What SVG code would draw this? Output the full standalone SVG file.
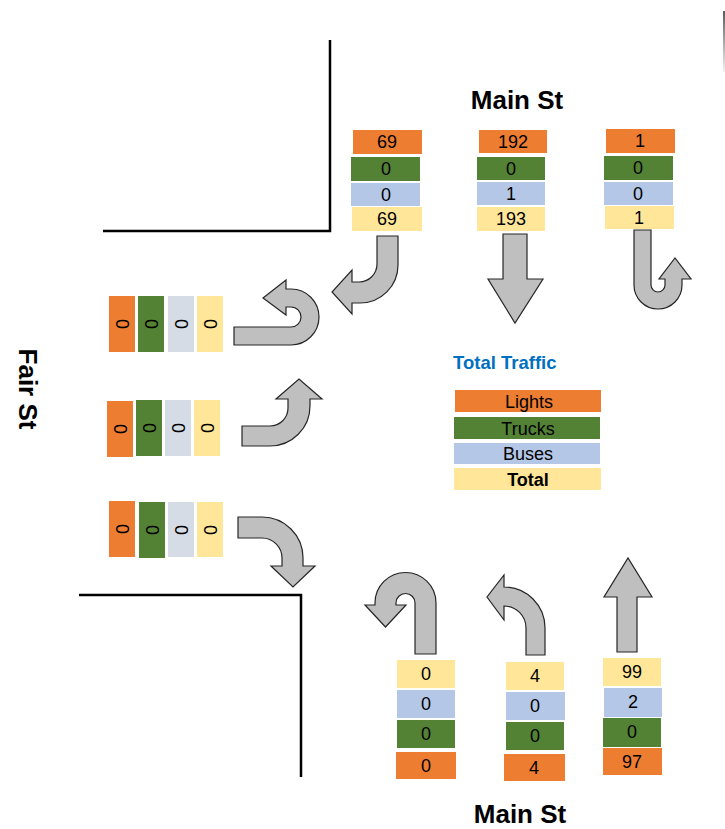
<svg xmlns="http://www.w3.org/2000/svg" width="725" height="829" viewBox="0 0 725 829">
<defs>
<linearGradient id="fade" gradientUnits="userSpaceOnUse" x1="0" y1="11" x2="0" y2="72">
<stop offset="0" stop-color="#333"/>
<stop offset="1" stop-color="#eee"/>
</linearGradient>
<style>
.o{fill:#ED7D31}.g{fill:#548235}.b{fill:#B4C7E7}.y{fill:#FFE699}.s{fill:#D6DCE5}
.n{font-family:"Liberation Sans",Arial,sans-serif;font-size:18px;fill:#000;text-anchor:middle}
.lbl{font-family:"Liberation Sans",Arial,sans-serif;font-size:26px;font-weight:bold;fill:#000;text-anchor:middle}
.arr{fill:#BFBFBF;stroke:#262626;stroke-width:1.2;stroke-linejoin:miter}
.road{fill:none;stroke:#000;stroke-width:2.5}
</style>
</defs>
<rect width="725" height="829" fill="#fff"/>
<g id="roads">
<polyline class="road" points="330,40 330,231 103,231"/>
<polyline class="road" points="79,595 301,595 301,777"/>
<rect x="723.2" y="11" width="1.6" height="61" fill="url(#fade)"/>
</g>
<g id="labels">
<text class="lbl" x="517" y="109">Main St</text>
<text class="lbl" x="520" y="823">Main St</text>
<text class="lbl" transform="translate(19,389) rotate(90)" x="0" y="0">Fair St</text>
</g>
<g id="north-left">
<rect class="o" x="353" y="130" width="69" height="24"/><text class="n" x="387" y="148">69</text>
<rect class="g" x="351" y="157" width="69" height="24"/><text class="n" x="386" y="175">0</text>
<rect class="b" x="351" y="183" width="69" height="23"/><text class="n" x="386" y="201">0</text>
<rect class="y" x="352" y="207" width="70" height="24"/><text class="n" x="387" y="225">69</text>
</g>
<g id="north-through">
<rect class="o" x="479" y="130" width="68" height="23"/><text class="n" x="513" y="148">192</text>
<rect class="g" x="477" y="157" width="68" height="23"/><text class="n" x="511" y="175">0</text>
<rect class="b" x="477" y="182" width="68" height="23"/><text class="n" x="511" y="200">1</text>
<rect class="y" x="477" y="207" width="68" height="24"/><text class="n" x="511" y="225">193</text>
</g>
<g id="north-uturn">
<rect class="o" x="606" y="129" width="69" height="24"/><text class="n" x="640" y="147">1</text>
<rect class="g" x="604" y="156" width="69" height="24"/><text class="n" x="638" y="174">0</text>
<rect class="b" x="604" y="182" width="69" height="23"/><text class="n" x="638" y="200">0</text>
<rect class="y" x="605" y="206" width="69" height="23"/><text class="n" x="639" y="224">1</text>
</g>
<g id="west-uturn">
<rect class="o" x="109" y="296" width="26" height="56"/>
<rect class="g" x="138" y="296" width="26" height="56"/>
<rect class="s" x="168" y="296" width="26" height="56"/>
<rect class="y" x="197" y="296" width="26" height="56"/>
<text class="n" transform="translate(122,324) rotate(90)" dy="0.35em">0</text>
<text class="n" transform="translate(151,324) rotate(90)" dy="0.35em">0</text>
<text class="n" transform="translate(181,324) rotate(90)" dy="0.35em">0</text>
<text class="n" transform="translate(210,324) rotate(90)" dy="0.35em">0</text>
</g>
<g id="west-left">
<rect class="o" x="107" y="401" width="26" height="56"/>
<rect class="g" x="136" y="400" width="26" height="56"/>
<rect class="s" x="165" y="400" width="26" height="56"/>
<rect class="y" x="194" y="400" width="26" height="56"/>
<text class="n" transform="translate(120,429) rotate(90)" dy="0.35em">0</text>
<text class="n" transform="translate(149,428) rotate(90)" dy="0.35em">0</text>
<text class="n" transform="translate(178,428) rotate(90)" dy="0.35em">0</text>
<text class="n" transform="translate(207,428) rotate(90)" dy="0.35em">0</text>
</g>
<g id="west-right">
<rect class="o" x="109" y="501" width="26" height="56"/>
<rect class="g" x="139" y="502" width="26" height="56"/>
<rect class="s" x="168" y="502" width="26" height="55"/>
<rect class="y" x="197" y="502" width="26" height="55"/>
<text class="n" transform="translate(122,529) rotate(90)" dy="0.35em">0</text>
<text class="n" transform="translate(152,530) rotate(90)" dy="0.35em">0</text>
<text class="n" transform="translate(181,530) rotate(90)" dy="0.35em">0</text>
<text class="n" transform="translate(210,530) rotate(90)" dy="0.35em">0</text>
</g>
<g id="south-uturn">
<rect class="y" x="397" y="660" width="58" height="28"/><text class="n" x="426" y="680">0</text>
<rect class="b" x="397" y="690" width="58" height="28"/><text class="n" x="426" y="710">0</text>
<rect class="g" x="397" y="720" width="58" height="28"/><text class="n" x="426" y="740">0</text>
<rect class="o" x="396" y="752" width="60" height="27"/><text class="n" x="426" y="772">0</text>
</g>
<g id="south-left">
<rect class="y" x="506" y="662" width="58" height="28"/><text class="n" x="535" y="682">4</text>
<rect class="b" x="506" y="692" width="59" height="28"/><text class="n" x="535" y="712">0</text>
<rect class="g" x="506" y="722" width="58" height="28"/><text class="n" x="535" y="742">0</text>
<rect class="o" x="504" y="754" width="61" height="27"/><text class="n" x="534" y="774">4</text>
</g>
<g id="south-through">
<rect class="y" x="603" y="658" width="58" height="28"/><text class="n" x="632" y="678">99</text>
<rect class="b" x="604" y="688" width="58" height="29"/><text class="n" x="633" y="708">2</text>
<rect class="g" x="603" y="718" width="58" height="29"/><text class="n" x="632" y="738">0</text>
<rect class="o" x="603" y="748" width="59" height="27"/><text class="n" x="632" y="768">97</text>
</g>
<g id="legend">
<text x="453" y="369" font-family="Liberation Sans, Arial, sans-serif" font-size="18.5" font-weight="bold" fill="#0070C0">Total Traffic</text>
<rect class="o" x="455" y="390" width="146" height="22"/><text class="n" x="529" y="408">Lights</text>
<rect class="g" x="454" y="417" width="146" height="22"/><text class="n" x="528" y="435">Trucks</text>
<rect class="b" x="454" y="443" width="146" height="21"/><text class="n" x="528" y="460">Buses</text>
<rect class="y" x="454" y="468" width="147" height="22"/><text class="n" x="528" y="486" font-weight="bold">Total</text>
</g>
<g id="connectors">
<path class="arr" d="M377,236 L398,236 L398,265 A38,38 0 0 1 360,303 L352,303 L352,314 L332,292 L352,270 L352,282 L359,282 A18,18 0 0 0 377,264 Z"/>
<path class="arr" d="M503,234 L527,234 L527,279 L543,279 L515,323 L488,279 L503,279 Z"/>
<path class="arr" d="M634,230 L651,230 L651,285 A7,7 0 0 0 665,285 L665,279 L659,279 L675,258 L691,279 L682,279 L682,285 A24,24 0 0 1 634,285 Z"/>
<path class="arr" d="M234,327 L291,327 A10,10 0 0 0 291,307 L286,307 L286,315 L263,298 L286,280 L286,289 L291,289 A28,28 0 0 1 291,345 L234,345 Z"/>
<path class="arr" d="M242,426 L270,426 A18,18 0 0 0 288,408 L288,399 L276,399 L299,379 L322,399 L310,399 L310,406 A40,40 0 0 1 270,446 L242,446 Z"/>
<path class="arr" d="M238,517 L262,517 A41,41 0 0 1 303,558 L303,566 L315,566 L293,587 L271,566 L282,566 L282,558 A20,20 0 0 0 262,538 L238,538 Z"/>
<path class="arr" d="M415,654 L415,603 A9.5,9.5 0 0 0 396,603 L396,605 L406,605 L385.5,627 L365,605 L375,605 L375,603 A30.5,30.5 0 0 1 436,603 L436,654 Z"/>
<path class="arr" d="M526,655 L526,628 A22,22 0 0 0 504,606 L504,620 L487,597 L504,575 L504,587 A41,41 0 0 1 545,628 L545,655 Z"/>
<path class="arr" d="M617,652 L617,597 L604,597 L628,558 L652,597 L637,597 L637,652 Z"/>
</g>
</svg>
